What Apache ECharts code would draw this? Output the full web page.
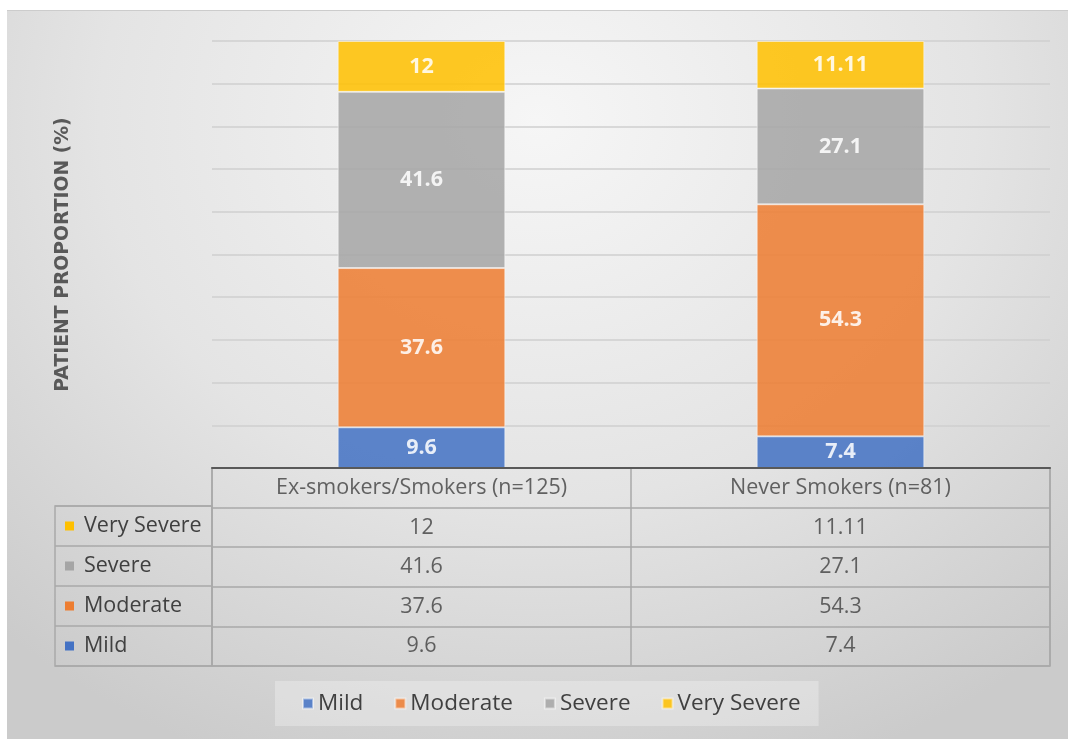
<!DOCTYPE html>
<html>
<head>
<meta charset="utf-8">
<script src="https://cdn.jsdelivr.net/npm/echarts@6/dist/echarts.min.js"></script>
<style>
  html, body { margin: 0; padding: 0; background: #ffffff; width: 1068px; height: 739px; overflow: hidden; }
  #chart {
    position: absolute; left: 7px; top: 10px; width: 1061px; height: 729px;
    border-top: 1px solid #cccccc; box-sizing: border-box;
    background: radial-gradient(ellipse 75% 95% at 50% 15%, #f6f6f6 0%, #e4e4e4 55%, #cbcbcb 100%);
  }
</style>
</head>
<body>
<div id="chart"></div>
<script>
// ---- data ----
const categories = ['Ex-smokers/Smokers (n=125)', 'Never Smokers (n=81)'];
const seriesNames = ['Mild', 'Moderate', 'Severe', 'Very Severe'];
const mild = [9.6, 7.4];
const moderate = [37.6, 54.3];
const severe = [41.6, 27.1];
const verySevere = [12, 11.11];
const colors = ['#4472C4', '#ED7D31', '#A5A5A5', '#FFC000'];
const yAxisName = 'PATIENT PROPORTION (%)';

const values = [mild, moderate, severe, verySevere];
// 100% stacked: each column normalised to its total
const totals = categories.map((c, i) => values.reduce((s, arr) => s + arr[i], 0));

const FONT = '"Open Sans", sans-serif';
const TEXT = '#404040';
const LINE = '#a9a9a9';
const FS = 21.5;

const chart = echarts.init(document.getElementById('chart'), null, { renderer: 'canvas' });

const barSeries = seriesNames.map((name, k) => ({
  name: name,
  type: 'bar',
  stack: 'total',
  xAxisIndex: 0, yAxisIndex: 0,
  barWidth: '40%',
  data: values[k].map((v, i) => v / totals[i] * 100),
  itemStyle: { color: colors[k], opacity: 0.86, borderColor: 'rgba(255,255,255,0.55)', borderWidth: 1 },
  label: {
    show: true, position: 'inside', color: '#ffffff', fontWeight: 'bold',
    fontFamily: FONT, fontSize: 21.5,
    formatter: (p) => String(values[k][p.dataIndex])
  },
  emphasis: { disabled: true }
}));

// table cells (header + values) drawn as label-only scatter points on a category/category grid
const tableRows = seriesNames.concat(['header']);
const cellData = [];
categories.forEach((c, i) => {
  cellData.push({ value: [c, 'header'], text: c });
  seriesNames.forEach((s, k) => cellData.push({ value: [c, s], text: String(values[k][i]) }));
});

const richLeft = {};
seriesNames.forEach((s, k) => {
  richLeft['k' + k] = { width: 9, height: 9, backgroundColor: colors[k] };
});
richLeft.t = { fontFamily: FONT, fontSize: FS, color: TEXT, padding: [0, 0, 0, 10] };

const option = {
  animation: false,
  backgroundColor: 'transparent',
  textStyle: { fontFamily: FONT },
  legend: {
    data: seriesNames,
    left: 268, top: 670,
    padding: [11, 18, 11, 27],
    backgroundColor: 'rgba(255,255,255,0.28)',
    itemWidth: 10, itemHeight: 10, itemGap: 31,
    icon: 'rect',
    textStyle: { fontFamily: FONT, fontSize: 22.5, color: TEXT }
  },
  grid: [
    { left: 205, right: 18, top: 30, height: 427 },
    { left: 205, right: 18, top: 457, height: 198, show: true, borderColor: LINE, borderWidth: 1.5 },
    { left: 48, width: 157, top: 495, height: 160, show: true, borderColor: LINE, borderWidth: 1.5 }
  ],
  xAxis: [
    { type: 'category', gridIndex: 0, data: categories, z: 10,
      axisLine: { show: true, lineStyle: { color: '#595959', width: 2 } },
      axisTick: { show: false }, axisLabel: { show: false } },
    { type: 'category', gridIndex: 1, data: categories,
      axisLine: { show: false }, axisTick: { show: false }, axisLabel: { show: false },
      splitLine: { show: true, lineStyle: { color: LINE, width: 1.5 } } },
    { type: 'value', gridIndex: 2, min: 0, max: 1, show: false }
  ],
  yAxis: [
    { type: 'value', gridIndex: 0, min: 0, max: 100, interval: 10,
      name: yAxisName, nameLocation: 'middle', nameRotate: 90, nameGap: 139,
      nameTextStyle: { fontFamily: '"DejaVu Sans", sans-serif', fontWeight: 'bold', fontSize: 18.8, color: '#595959' },
      axisLine: { show: false }, axisTick: { show: false }, axisLabel: { show: false },
      splitLine: { show: true, lineStyle: { color: '#cfcfcf', width: 1.5 } } },
    { type: 'category', gridIndex: 1, data: tableRows,
      axisLine: { show: false }, axisTick: { show: false }, axisLabel: { show: false },
      splitLine: { show: true, lineStyle: { color: LINE, width: 1.5 } } },
    { type: 'category', gridIndex: 2, data: seriesNames,
      axisLine: { show: false }, axisTick: { show: false },
      axisLabel: {
        show: true, inside: true, margin: 10,
        formatter: (v) => '{k' + seriesNames.indexOf(v) + '|}{t|' + v + '}',
        rich: richLeft
      },
      splitLine: { show: true, lineStyle: { color: LINE, width: 1.5 } } }
  ],
  series: barSeries.concat([{
    name: 'table',
    type: 'scatter',
    xAxisIndex: 1, yAxisIndex: 1,
    symbolSize: 1,
    itemStyle: { color: 'rgba(0,0,0,0)' },
    silent: true,
    data: cellData,
    label: {
      show: true, position: 'inside', fontFamily: FONT, fontSize: FS, color: TEXT,
      formatter: (p) => p.data.text
    }
  }])
};

chart.setOption(option);
</script>
</body>
</html>
